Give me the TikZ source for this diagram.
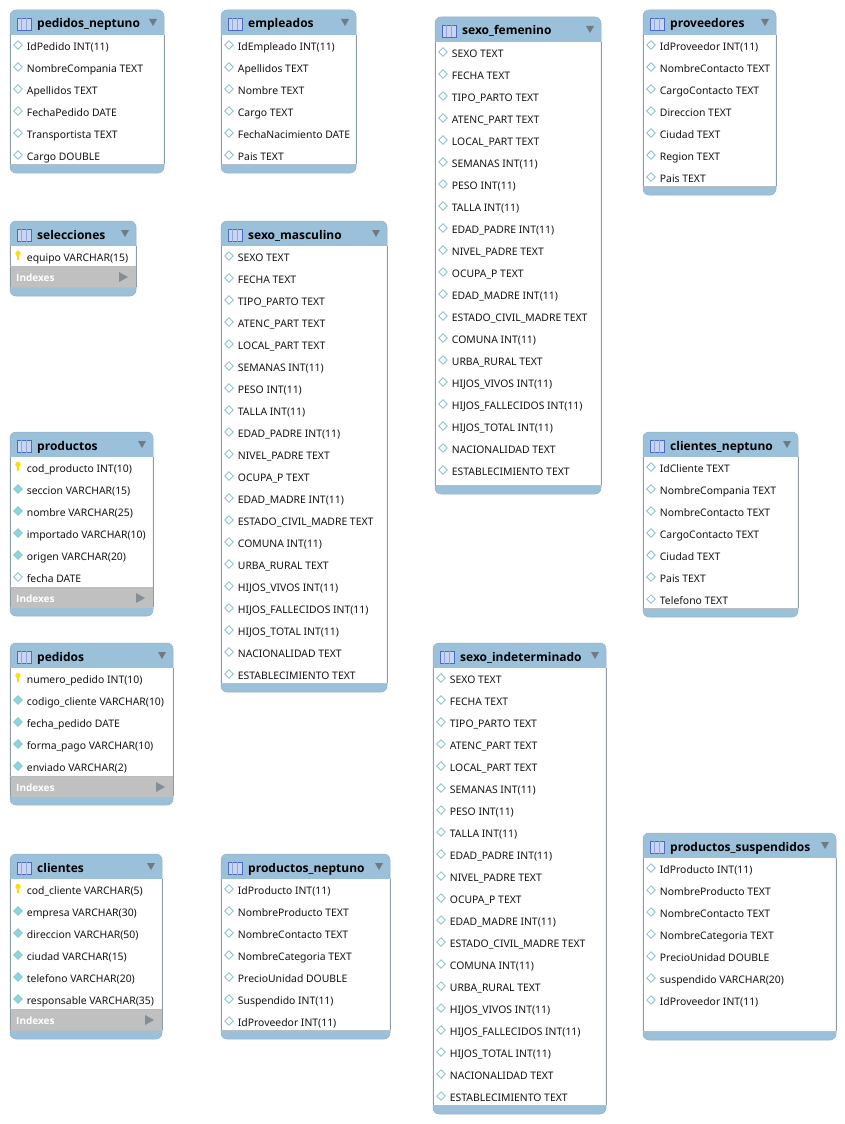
\documentclass[tikz,border=0pt]{standalone}
\usepackage{fontspec}
\setmainfont{Noto Sans}
\newfontfamily\titlefont{Open Sans}
\definecolor{headblue}{HTML}{9BC0DA}
\definecolor{rimgray}{HTML}{8A9096}
\definecolor{arrowgray}{HTML}{6F7A82}
\definecolor{indexgray}{HTML}{C0C0C0}
\definecolor{iconblue}{HTML}{4A6CC8}
\definecolor{iconpale}{HTML}{C9D6F2}
\definecolor{diamondrim}{HTML}{8FC4CA}
\definecolor{diamondfill}{HTML}{86DADE}
\tikzset{
	rowtext/.style={anchor=base west, inner sep=0pt, font=\fontsize{10.4}{11}\selectfont, text=black!92},
	titletext/.style={anchor=base west, inner sep=0pt, font=\titlefont\fontsize{12}{14}\selectfont\bfseries, text=black},
	indextext/.style={anchor=base west, inner sep=0pt, font=\titlefont\fontsize{10}{11}\selectfont\bfseries, text=white},
	icone/.pic={\draw[draw=diamondrim, fill=white, line width=0.8pt] (-4.2,0) -- (0,-4.2) -- (4.2,0) -- (0,4.2) -- cycle;},
	iconf/.pic={\draw[draw=diamondrim, fill=diamondfill, line width=0.8pt] (-4.2,0) -- (0,-4.2) -- (4.2,0) -- (0,4.2) -- cycle;},
	iconk/.pic={\fill[yellow!80!orange] (-1.1,-1) rectangle (1.1,4); \fill[yellow!80!orange] (0,-2.5) circle (2.7);},
}
% name, left, right, top, bottom, rows
\newcommand{\erdtable}[6]{
	\fill[headblue, rounded corners=6] (#2,#4) rectangle (#3,#5);
	\fill[white] (#2,#4+25) rectangle (#3,#5-9);
	\draw[rimgray, line width=0.9pt] (#2,#4+25) -- (#2,#5-9) (#3,#5-9) -- (#3,#4+25);
	\draw[rimgray!60, line width=0.7pt] (#2,#5-9) -- (#3,#5-9);
	\draw[headblue!75!gray, line width=0.5pt, rounded corners=6] (#2,#4) rectangle (#3,#5);
	% Tabellensymbol
	\fill[iconpale, draw=iconblue, line width=0.8pt] (#2+7,#4+8) rectangle (#2+21,#4+20.5);
	\draw[iconblue!60, line width=0.5pt] (#2+11.5,#4+8) -- (#2+11.5,#4+20.5) (#2+16.5,#4+8) -- (#2+16.5,#4+20.5);
	\node[titletext] (#1-title) at (#2+27,#4+18) {\detokenize{#1}};
	\fill[arrowgray] (#3-15,#4+9) -- (#3-7,#4+9) -- (#3-11,#4+16) -- cycle;
	\expandafter\def\expandafter\rowlist\expandafter{#6}
	\foreach \kind/\txt [count=\n] in \rowlist {
		\pgfmathsetmacro{\rowy}{#4+14+22*\n}
		\pic at (#2+8,\rowy-1) {icon\kind};
		\node[rowtext] (#1-row\n) at (#2+16.7,\rowy+4.2) {\txt};
	}
}
% name, left, right, top of the band
\newcommand{\erdindexes}[4]{
	\fill[indexgray] (#2+0.5,#4) rectangle (#3-0.5,#4+21);
	\draw[rimgray!60, line width=0.5pt] (#2,#4) -- (#3,#4);
	\node[indextext] (#1-indexes) at (#2+6,#4+15) {Indexes};
	\fill[arrowgray!85] (#3-17,#4+6) -- (#3-8,#4+11) -- (#3-17,#4+16) -- cycle;
}
\def\sexorows{e/SEXO TEXT, e/FECHA TEXT, e/TIPO\_PARTO TEXT, e/ATENC\_PART TEXT, e/LOCAL\_PART TEXT, e/SEMANAS INT(11), e/PESO INT(11), e/TALLA INT(11), e/EDAD\_PADRE INT(11), e/NIVEL\_PADRE TEXT, e/OCUPA\_P TEXT, e/EDAD\_MADRE INT(11), e/ESTADO\_CIVIL\_MADRE TEXT, e/COMUNA INT(11), e/URBA\_RURAL TEXT, e/HIJOS\_VIVOS INT(11), e/HIJOS\_FALLECIDOS INT(11), e/HIJOS\_TOTAL INT(11), e/NACIONALIDAD TEXT, e/ESTABLECIMIENTO TEXT}
\begin{document}
\begin{tikzpicture}[x=1pt, y=-1pt]
\useasboundingbox (0,0) rectangle (845,1124);
\fill[white] (0,0) rectangle (845,1124);

% Linke Spalte
\erdtable{pedidos_neptuno}{10}{164}{10}{173}{e/IdPedido INT(11), e/NombreCompania TEXT, e/Apellidos TEXT, e/FechaPedido DATE, e/Transportista TEXT, e/Cargo DOUBLE}
\erdtable{selecciones}{10}{136}{221}{296}{k/equipo VARCHAR(15)}
\erdindexes{selecciones}{10}{136}{266}
\erdtable{productos}{10}{153}{432}{616}{k/cod\_producto INT(10), f/seccion VARCHAR(15), f/nombre VARCHAR(25), f/importado VARCHAR(10), f/origen VARCHAR(20), e/fecha DATE}
\erdindexes{productos}{10}{153}{587}
\erdtable{pedidos}{10}{173}{643}{805}{k/numero\_pedido INT(10), f/codigo\_cliente VARCHAR(10), f/fecha\_pedido DATE, f/forma\_pago VARCHAR(10), f/enviado VARCHAR(2)}
\erdindexes{pedidos}{10}{173}{776}
\erdtable{clientes}{10}{162}{854}{1039}{k/cod\_cliente VARCHAR(5), f/empresa VARCHAR(30), f/direccion VARCHAR(50), f/ciudad VARCHAR(15), f/telefono VARCHAR(20), f/responsable VARCHAR(35)}
\erdindexes{clientes}{10}{162}{1009}

% Zweite Spalte
\erdtable{empleados}{221}{356}{10}{173}{e/IdEmpleado INT(11), e/Apellidos TEXT, e/Nombre TEXT, e/Cargo TEXT, e/FechaNacimiento DATE, e/Pais TEXT}
\erdtable{sexo_masculino}{221}{387}{221}{692}{\sexorows}
\erdtable{productos_neptuno}{221}{390}{854}{1039}{e/IdProducto INT(11), e/NombreProducto TEXT, e/NombreContacto TEXT, e/NombreCategoria TEXT, e/PrecioUnidad DOUBLE, e/Suspendido INT(11), e/IdProveedor INT(11)}

% Dritte Spalte
\erdtable{sexo_femenino}{435}{601}{17}{494}{\sexorows}
\erdtable{sexo_indeterminado}{433}{606}{643}{1114}{\sexorows}

% Rechte Spalte
\erdtable{proveedores}{643}{776}{10}{195}{e/IdProveedor INT(11), e/NombreContacto TEXT, e/CargoContacto TEXT, e/Direccion TEXT, e/Ciudad TEXT, e/Region TEXT, e/Pais TEXT}
\erdtable{clientes_neptuno}{643}{798}{432}{617}{e/IdCliente TEXT, e/NombreCompania TEXT, e/NombreContacto TEXT, e/CargoContacto TEXT, e/Ciudad TEXT, e/Pais TEXT, e/Telefono TEXT}
\erdtable{productos_suspendidos}{643}{836}{833}{1040}{e/IdProducto INT(11), e/NombreProducto TEXT, e/NombreContacto TEXT, e/NombreCategoria TEXT, e/PrecioUnidad DOUBLE, e/suspendido VARCHAR(20), e/IdProveedor INT(11)}
\end{tikzpicture}
\end{document}
